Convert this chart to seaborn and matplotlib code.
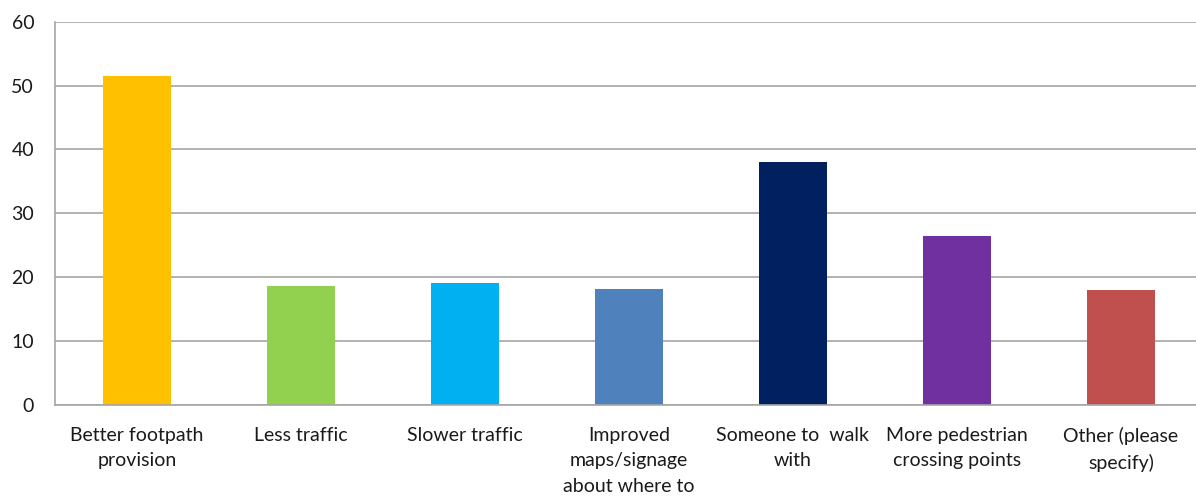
import matplotlib
matplotlib.use("Agg")
import matplotlib.pyplot as plt
import seaborn as sns
import pandas as pd

# Survey responses: what would encourage more walking
categories = [
    "Better footpath\nprovision",
    "Less traffic",
    "Slower traffic",
    "Improved\nmaps/signage\nabout where to",
    "Someone to  walk\nwith",
    "More pedestrian\ncrossing points",
    "Other (please\nspecify)",
]
values = [51.5, 18.6, 19.1, 18.1, 38.1, 26.5, 18.0]
colors = ["#FFC000", "#92D050", "#00B0F0", "#4F81BD", "#002060", "#7030A0", "#C0504D"]
y_ticks = [0, 10, 20, 30, 40, 50, 60]

df = pd.DataFrame({"category": categories, "value": values})

sns.set_style("white")
plt.rcParams["font.family"] = ["Lato", "DejaVu Sans"]

W, H = 1196, 498
fig = plt.figure(figsize=(W / 100, H / 100), dpi=100)
left_px, right_px, top_px, bottom_px = 55, 1203, 22, 404.5
ax = fig.add_axes([left_px / W, (H - bottom_px) / H,
                   (right_px - left_px) / W, (bottom_px - top_px) / H])

sns.barplot(data=df, x="category", y="value", hue="category",
            palette=colors, width=0.41, legend=False, ax=ax,
            saturation=1, linewidth=0)

grid_color = "#A6A6A6"
ax.set_ylim(0, 60)
ax.set_xlim(-0.5, len(categories) - 0.5)
ax.set_yticks(y_ticks)
ax.yaxis.grid(True, color=grid_color, linewidth=1.2)
ax.set_axisbelow(True)
for side in ["top", "right"]:
    ax.spines[side].set_visible(False)
ax.spines["left"].set_color(grid_color)
ax.spines["left"].set_linewidth(1.2)
ax.spines["bottom"].set_color(grid_color)
ax.spines["bottom"].set_linewidth(1.2)

ax.tick_params(axis="y", length=5, width=1.2, color=grid_color, pad=10,
               labelsize=14, labelcolor="#1a1a1a")
ax.tick_params(axis="x", length=0, pad=16, labelsize=14, labelcolor="#1a1a1a")
for lbl in ax.get_xticklabels():
    lbl.set_linespacing(1.6)
    lbl.set_verticalalignment("top")
ax.set_xlabel("")
ax.set_ylabel("")

fig.savefig("out.png", dpi=100)
